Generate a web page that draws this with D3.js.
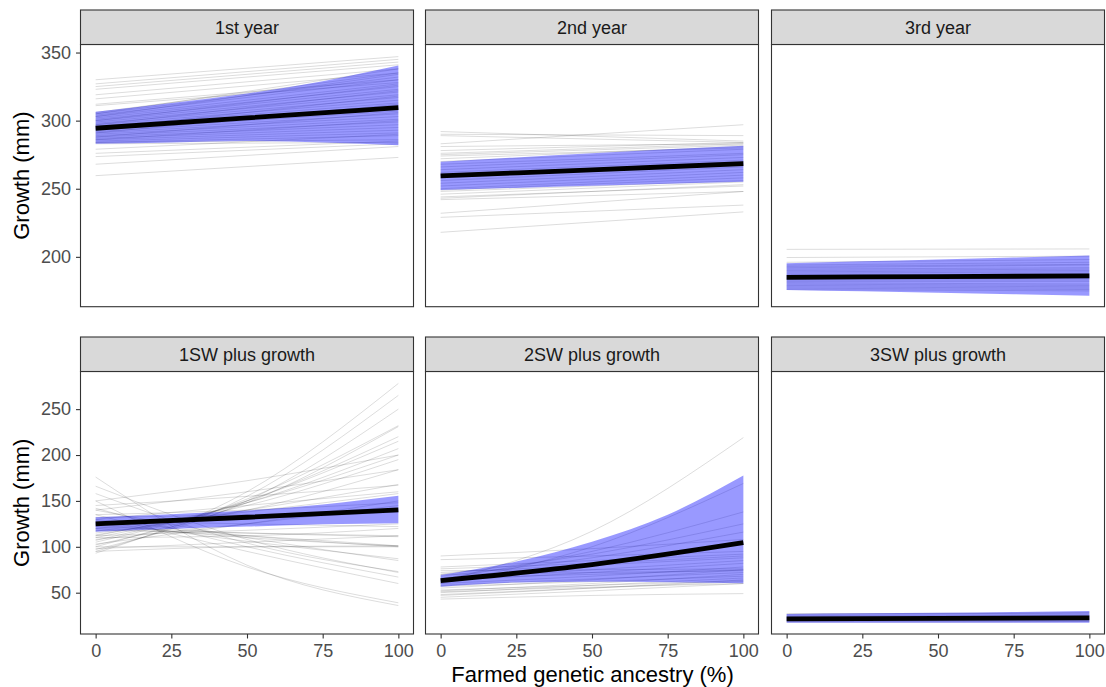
<!DOCTYPE html>
<html><head><meta charset="utf-8">
<script src="https://cdn.jsdelivr.net/npm/d3@7"></script>
<style>body{margin:0;background:#fff}svg{display:block;font-family:"Liberation Sans",Arial,Helvetica,sans-serif}</style>
</head><body><svg id="c" width="1106" height="687"></svg>
<script>
// ---------------- data ----------------
const panelTitles = ["1st year","2nd year","3rd year","1SW plus growth","2SW plus growth","3SW plus growth"];
const xTicks = [0,25,50,75,100];
const yTicksTop = [200,250,300,350];
const yTicksBottom = [50,100,150,200,250];
const xTitle = "Farmed genetic ancestry (%)";
const yTitle = "Growth (mm)";

const ribbonX = [0,25,50,75,100];
const meanX = [0,50,100];
const lineXTop = [0,100];
const lineXBottom = [0,50,100];

// 1st year
const ribbon1Upper = [306.6,313,320,329,340.4];
const ribbon1Lower = [283,284,285,284,282];
const mean1 = [294.4,302,309.5];
const lines1 = [[330,347],[327,345],[325,343],[323,341],[319,338],[316,335],[312,330],[311,328],
  [306,335],[305,332],[304,330],[303,327],[302,325],[301,323],[300,321],[299,319],[298,317],[297,315],
  [296,313],[295,311],[294,309],[293,307],[292,305],[291,303],[290,301],[289,299],[288,297],[287,295],
  [286,293],[285,291],[284,289],[284,286],[283,284],[279,290],[276,285],[273.6,283],[268,281],[259.6,273],
  [305,338],[303,334],[300,326],[297,322],[294,318],[291,312],[288,306],[286,300]];

// 2nd year
const ribbon2Upper = [269.9,273,276,279,281.6];
const ribbon2Lower = [249.1,250.6,252.2,253.7,255.2];
const mean2 = [259.4,263.9,268.4];
const lines2 = [[292,285],[290,289],[289,284],[283,297],[281,283],[278,284],[276,283],[275,282],[274,280],
  [272,281],[270,279],[268,276],[266,275],[264,273],[262,271],[260,270],[258,268],[256,266],[254,264],
  [252,262],[250,260],[249,258],[248,256],[246,255],[244,252],[243,253],[242,248],[232,248],[229,238],[218,233]];

// 3rd year
const ribbon3Upper = [195.3,196.7,198.1,199.5,200.9];
const ribbon3Lower = [175.7,174.7,173.6,172.6,171.5];
const mean3 = [185,185.5,186];
const lines3 = [[205.5,205.8],[199.5,200.5],[196,198],[194,196],[193,194.5],[192,194],[191,192],[190,191],
  [189,190],[188,189],[187,187.5],[186,186],[185,184.5],[184,184],[183,183],[182,182],[181,180],
  [180,179],[179,178],[178,177],[177,176],[176,175]];

// 1SW plus growth
const ribbon4Upper = [132.2,135.5,139.5,146,155.5];
const ribbon4Lower = [116.5,119.5,122,124.5,125.7];
const mean4 = [125,132.2,140.2];
const lines4 = [[176,80,36],[166,108,72],[158,104,73],[150,78,39],[142,100,67],[140,110,85],[135,95,60],
  [130,112,100],[128,106,87],[125,110,101],[122,115,111],[120,112,101],[118,115,112],
  [93,160,278],[95,155,265],[97,150,250],[100,152,232],[102,148,231],[105,150,220],[107,150,215],
  [110,148,207],[112,148,200],[113,145,195],[115,140,184],[117,140,168],[120,138,158],[103,125,150],
  [108,125,145],[145,155,167],[140,160,184],[150,172,200],[130,145,160],[135,140,148],[95,100,101],
  [98,105,112],[100,100,100],[110,112,120],[128,125,122],[112,118,125],[124,130,138],[132,135,140]];

// 2SW plus growth
const ribbon5Upper = [69.3,84,105.6,135,177.6];
const ribbon5Lower = [56.5,61,62,61.5,60.2];
const mean5 = [63.1,80.6,104.5];
const lines5 = [[62,117,219],[60,100,169],[65,95,138],[70,92,125],[68,88,116],[90,98,108],[86,90,95],
  [76,82,90],[78,85,92],[72,80,88],[65,75,85],[63,72,82],[60,68,78],[58,65,72],[55,64,75],[52,60,70],
  [50,58,66],[48,55,62],[51,56,60],[47,55,64],[45,52,60],[43,47,49],[57,62,68],[66,70,75],[74,75,76],
  [70,72,74],[53,58,63]];

// 3SW plus growth
const ribbon6Upper = [26.8,27.5,28.2,29,30];
const ribbon6Lower = [17.3,17.3,17.3,17.3,17.3];
const mean6 = [21.5,22,22.5];
const lines6 = [[27,27.5,28],[26.5,27,28],[25,25.5,26],[24,24.5,25],[23,23,23.5],[22,22,22],[21,21,21],
  [20,20,20],[19,19,19],[18,18,18.5]];

// ---------------- layout ----------------
const panels = [
  {title:panelTitles[0], up:ribbon1Upper, lo:ribbon1Lower, mean:mean1, lines:lines1, lx:lineXTop},
  {title:panelTitles[1], up:ribbon2Upper, lo:ribbon2Lower, mean:mean2, lines:lines2, lx:lineXTop},
  {title:panelTitles[2], up:ribbon3Upper, lo:ribbon3Lower, mean:mean3, lines:lines3, lx:lineXTop},
  {title:panelTitles[3], up:ribbon4Upper, lo:ribbon4Lower, mean:mean4, lines:lines4, lx:lineXBottom},
  {title:panelTitles[4], up:ribbon5Upper, lo:ribbon5Lower, mean:mean5, lines:lines5, lx:lineXBottom},
  {title:panelTitles[5], up:ribbon6Upper, lo:ribbon6Lower, mean:mean6, lines:lines6, lx:lineXBottom}
];
const colLeft = [80.5, 425.5, 771.5];
const panelW = 333;
const stripTop = [10, 337];
const stripH = 34.5;
const panelBottom = [306.7, 634];
const yDomains = [[163.4,355.9],[5,291]];
const yTickSets = [yTicksTop, yTicksBottom];

const svg = d3.select("#c");
const TICK_COL = "#333333", LABEL_COL = "#4d4d4d";

panels.forEach((p,i)=>{
  const row = Math.floor(i/3), col = i%3;
  const left = colLeft[col], right = left+panelW;
  const top = stripTop[row]+stripH, bottom = panelBottom[row];
  const x = d3.scaleLinear().domain([-5,105]).range([left,right]);
  const y = d3.scaleLinear().domain(yDomains[row]).range([bottom,top]);
  const g = svg.append("g");
  const cid = "clip"+i;
  svg.append("clipPath").attr("id",cid).append("rect")
    .attr("x",left).attr("y",top).attr("width",panelW).attr("height",bottom-top);
  const plot = g.append("g").attr("clip-path",`url(#${cid})`);

  const line = d3.line().x(d=>x(d[0])).y(d=>y(d[1])).curve(d3.curveMonotoneX);
  plot.selectAll("path.gl").data(p.lines).join("path").attr("class","gl")
    .attr("d",d=>line(d.map((v,j)=>[p.lx[j],v])))
    .attr("fill","none").attr("stroke","#000").attr("stroke-opacity",0.2).attr("stroke-width",0.7);

  const area = d3.area().x(d=>x(d[0])).y0(d=>y(d[1])).y1(d=>y(d[2])).curve(d3.curveMonotoneX);
  plot.append("path").datum(ribbonX.map((v,j)=>[v,p.lo[j],p.up[j]]))
    .attr("d",area).attr("fill","#0000ff").attr("fill-opacity",0.4);

  plot.append("path").datum(meanX.map((v,j)=>[v,p.mean[j]]))
    .attr("d",line).attr("fill","none").attr("stroke","#000").attr("stroke-width",4.8);

  // panel border
  g.append("rect").attr("x",left).attr("y",top).attr("width",panelW).attr("height",bottom-top)
    .attr("fill","none").attr("stroke",TICK_COL).attr("stroke-width",1.1);
  // strip
  g.append("rect").attr("x",left).attr("y",stripTop[row]).attr("width",panelW).attr("height",stripH)
    .attr("fill","#d9d9d9").attr("stroke",TICK_COL).attr("stroke-width",1.1);
  g.append("text").attr("x",(left+right)/2).attr("y",stripTop[row]+stripH/2).attr("dy","0.35em")
    .attr("text-anchor","middle").attr("font-size",18).attr("fill","#1a1a1a").text(p.title);

  if(col===0){
    const ax = g.append("g").attr("transform",`translate(${left},0)`)
      .call(d3.axisLeft(y).tickValues(yTickSets[row]).tickSize(4.5).tickPadding(5));
    ax.select(".domain").remove();
    ax.selectAll(".tick line").attr("stroke",TICK_COL).attr("stroke-width",1.1);
    ax.selectAll(".tick text").attr("font-size",18).attr("fill",LABEL_COL);
    ax.attr("font-family",null);
    g.append("text").attr("transform",`translate(29,${(top+bottom)/2}) rotate(-90)`)
      .attr("text-anchor","middle").attr("font-size",22).attr("fill","#000").text(yTitle);
  }
  if(row===1){
    const ax = g.append("g").attr("transform",`translate(0,${bottom})`)
      .call(d3.axisBottom(x).tickValues(xTicks).tickSize(4.5).tickPadding(6));
    ax.select(".domain").remove();
    ax.selectAll(".tick line").attr("stroke",TICK_COL).attr("stroke-width",1.1);
    ax.selectAll(".tick text").attr("font-size",18).attr("fill",LABEL_COL);
    ax.attr("font-family",null);
  }
});

svg.append("text").attr("x",(colLeft[0]+colLeft[2]+panelW)/2).attr("y",681.5)
  .attr("text-anchor","middle").attr("font-size",22).attr("fill","#000").text(xTitle);
</script></body></html>
